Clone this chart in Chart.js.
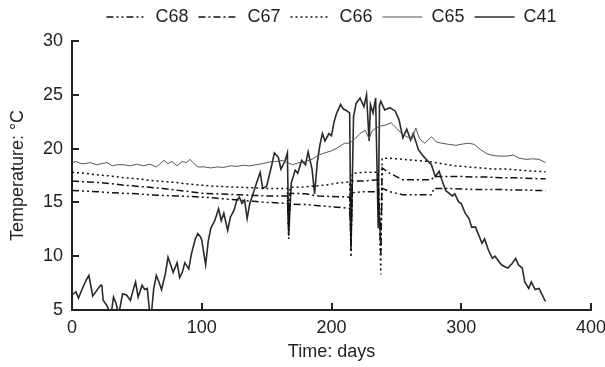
<!DOCTYPE html>
<html>
<head>
<meta charset="utf-8">
<script src="https://cdn.jsdelivr.net/npm/chart.js@4.4.1/dist/chart.umd.min.js"></script>
<style>
  html, body { margin: 0; padding: 0; background: #fff; }
  #wrap { width: 605px; height: 367px; }
</style>
</head>
<body>
<div id="wrap"><canvas id="chartTemp"></canvas></div>
<script>
// ==================== DADOS ====================
const xTicks = [0, 100, 200, 300, 400];
const yTicks = [5, 10, 15, 20, 25, 30];

const c68Days = [0, 10, 20, 30, 40, 50, 60, 70, 80, 90, 100, 110, 120, 130, 140, 150, 160, 166, 167, 168, 180, 190, 200, 214, 215, 216, 225, 236, 238, 239, 245, 255, 265, 277, 279, 290, 300, 310, 320, 330, 340, 350, 360, 365];
const c68Temp = [16.1, 16.05, 16.0, 15.9, 15.85, 15.8, 15.7, 15.65, 15.6, 15.55, 15.5, 15.4, 15.3, 15.2, 15.1, 15.0, 14.95, 14.9, 13.0, 14.85, 14.8, 14.7, 14.6, 14.45, 12.0, 15.9, 16.0, 16.0, 11.0, 16.3, 16.0, 15.7, 15.7, 15.7, 16.3, 16.3, 16.25, 16.2, 16.2, 16.2, 16.15, 16.15, 16.1, 16.1];

const c67Days = [0, 10, 20, 30, 40, 50, 60, 70, 80, 90, 100, 110, 120, 130, 140, 150, 160, 166, 167, 168, 180, 190, 200, 214, 215, 216, 225, 236, 238, 239, 245, 255, 265, 277, 279, 290, 300, 310, 320, 330, 340, 350, 360, 365];
const c67Temp = [17.0, 16.9, 16.85, 16.75, 16.6, 16.5, 16.4, 16.3, 16.15, 16.0, 15.85, 15.8, 15.75, 15.7, 15.65, 15.6, 15.6, 15.6, 12.4, 15.85, 15.8, 15.6, 15.55, 15.5, 11.0, 17.0, 17.0, 17.1, 10.2, 18.2, 17.7, 17.1, 17.1, 17.1, 17.4, 17.4, 17.4, 17.35, 17.35, 17.3, 17.3, 17.25, 17.2, 17.2];

const c66Days = [0, 10, 20, 30, 40, 50, 60, 70, 80, 90, 100, 110, 120, 130, 140, 150, 160, 166, 167, 168, 175, 185, 195, 205, 214, 215, 216, 225, 236, 238, 239, 245, 255, 265, 275, 285, 295, 305, 315, 325, 335, 345, 355, 365];
const c66Temp = [17.8, 17.7, 17.55, 17.45, 17.3, 17.2, 17.05, 16.95, 16.85, 16.7, 16.6, 16.5, 16.45, 16.4, 16.35, 16.3, 16.3, 16.3, 11.6, 16.4, 16.4, 16.5, 16.6, 16.8, 16.9, 9.9, 17.7, 17.8, 17.8, 8.3, 19.1, 19.1, 19.0, 18.9, 18.8, 18.6, 18.4, 18.3, 18.2, 18.1, 18.1, 18.0, 17.9, 17.85];

const c65Days = [0, 3, 7, 10, 14, 19, 23, 27, 31, 35, 40, 45, 50, 55, 60, 65, 68, 71, 74, 77, 81, 85, 88, 91, 94, 97, 102, 107, 112, 117, 122, 127, 132, 137, 142, 147, 152, 157, 162, 166, 170, 175, 180, 185, 190, 195, 200, 205, 210, 214, 218, 222, 226, 229, 231, 234, 238, 242, 246, 250, 254, 258, 262, 265, 268, 272, 277, 281, 285, 290, 296, 300, 305, 310, 315, 320, 325, 330, 335, 340, 345, 350, 355, 360, 365];
const c65Temp = [18.7, 18.8, 18.6, 18.6, 18.7, 18.5, 18.6, 18.7, 18.4, 18.5, 18.5, 18.4, 18.55, 18.4, 18.55, 18.3, 18.6, 18.9, 18.6, 18.8, 18.4, 18.8, 18.7, 19.0, 18.6, 18.3, 18.3, 18.2, 18.3, 18.25, 18.4, 18.35, 18.45, 18.4, 18.5, 18.6, 18.75, 18.8, 18.9, 18.7, 18.5, 18.7, 18.8, 19.0, 19.4, 19.6, 19.8, 20.1, 20.5, 20.5, 20.9, 21.4, 21.7, 20.9, 21.6, 21.9, 22.1, 22.2, 22.4, 21.9, 21.4, 21.1, 20.9, 21.9, 20.9, 20.5, 21.1, 20.6, 20.5, 20.4, 20.3, 20.4, 20.5, 20.4, 19.9, 19.5, 19.35, 19.3, 19.3, 19.4, 19.1, 19.0, 19.05, 19.0, 18.7];

const c41Days = [0, 3, 5, 8, 11, 13, 16, 19, 22, 23, 24, 27, 29, 30, 32, 34, 36, 39, 42, 45, 47, 49, 51, 54, 56, 58, 60, 61, 63, 65, 67, 69, 72, 74, 76, 78, 81, 83, 85, 87, 90, 92, 95, 97, 99, 100, 103, 105, 107, 110, 113, 115, 117, 120, 122, 125, 127, 129, 131, 133, 135, 137, 139, 142, 145, 147, 150, 152, 154, 156, 159, 161, 164, 166, 167, 169, 172, 174, 177, 180, 182, 185, 187, 189, 191, 193, 195, 198, 200, 202, 204, 207, 209, 212, 214, 215, 217, 219, 222, 225, 227, 229, 230, 232, 234, 236, 237, 238, 241, 245, 249, 252, 255, 258, 261, 263, 267, 270, 273, 277, 280, 283, 285, 288, 290, 293, 295, 298, 300, 303, 306, 308, 311, 313, 316, 318, 321, 324, 326, 329, 331, 334, 336, 339, 342, 344, 347, 349, 352, 354, 357, 360, 362, 364, 365];
const c41Temp = [6.4, 6.7, 6.1, 7.0, 7.8, 8.2, 6.3, 6.8, 7.3, 7.3, 5.9, 5.4, 4.8, 4.5, 6.2, 5.6, 4.6, 6.5, 6.4, 5.9, 6.8, 7.6, 6.2, 7.3, 6.9, 7.0, 4.6, 4.4, 7.0, 8.2, 7.6, 6.9, 8.4, 9.9, 9.2, 8.5, 9.4, 8.0, 8.5, 9.4, 8.8, 10.2, 11.6, 12.1, 11.8, 11.5, 9.2, 11.4, 12.6, 13.3, 14.4, 13.3, 14.0, 12.4, 13.6, 14.3, 15.2, 15.5, 14.9, 15.2, 13.5, 14.9, 15.6, 16.7, 17.8, 16.3, 16.5, 17.5, 18.5, 19.6, 19.2, 18.1, 18.8, 19.6, 12.0, 16.8, 18.0, 17.7, 18.9, 18.5, 19.7, 18.1, 15.8, 18.7, 20.3, 21.4, 20.7, 21.4, 21.2, 22.5, 23.3, 24.1, 23.7, 23.5, 23.3, 10.5, 23.0, 24.2, 24.7, 23.9, 25.0, 20.7, 24.1, 23.3, 24.7, 12.6, 24.0, 24.4, 23.6, 23.8, 23.5, 22.7, 21.0, 21.8, 20.8, 21.4, 19.9, 19.4, 19.0, 18.5, 17.4, 17.9, 17.1, 16.1, 15.9, 15.6, 15.8, 15.05, 14.9, 14.0, 13.5, 12.7, 12.7, 12.1, 11.2, 11.6, 10.55, 9.8, 10.0, 9.5, 9.2, 9.0, 8.9, 9.3, 9.8, 9.2, 8.9, 7.6, 7.0, 7.6, 6.9, 7.0, 6.5, 6.0, 5.8];

// junta dias e temperaturas em pontos {x, y}
function pontos(dias, temps) {
  return dias.map((d, i) => ({ x: d, y: temps[i] }));
}

// ==================== AJUSTE DA LEGENDA ====================
const legendaFixa = {
  id: 'legendaFixa',
  beforeLayout(chart) {
    const lg = chart.legend;
    if (lg && !lg._fitFixo) {
      const fitOrig = lg.fit;
      lg.fit = function () {
        fitOrig.call(this);
        this.height = 41;
      };
      lg._fitFixo = true;
    }
  },
  afterLayout(chart) {
    // sobe um pouco o texto da legenda
    if (chart.legend) chart.legend.top = -2;
  }
};

// ==================== GRAFICO DE TEMPERATURA ====================
Chart.defaults.font.family = '"Liberation Sans", Arial, sans-serif';
Chart.defaults.color = '#222';

const cxTemp = document.getElementById('chartTemp');
const chtTemp = new Chart(cxTemp, {
  type: 'line',
  data: {
    datasets: [
      {
        label: 'C68',
        data: pontos(c68Days, c68Temp),
        borderColor: '#111',
        backgroundColor: '#111',
        borderWidth: 1.5,
        borderDash: [7, 3, 2, 3, 2, 3],
      },
      {
        label: 'C67',
        data: pontos(c67Days, c67Temp),
        borderColor: '#111',
        backgroundColor: '#111',
        borderWidth: 1.5,
        borderDash: [7, 3, 2, 3],
      },
      {
        label: 'C66',
        data: pontos(c66Days, c66Temp),
        borderColor: '#111',
        backgroundColor: '#111',
        borderWidth: 1.5,
        borderDash: [2, 3],
      },
      {
        label: 'C65',
        data: pontos(c65Days, c65Temp),
        borderColor: '#555',
        backgroundColor: '#555',
        borderWidth: 1,
      },
      {
        label: 'C41',
        data: pontos(c41Days, c41Temp),
        borderColor: '#2a2a2a',
        backgroundColor: '#2a2a2a',
        borderWidth: 1.6,
      },
    ]
  },
  options: {
    responsive: true,
    maintainAspectRatio: false,
    animation: false,
    elements: {
      point: { radius: 0 },
      line: { tension: 0 },
    },
    layout: { padding: { left: 0, right: 0, top: 0, bottom: 0 } },
    scales: {
      x: {
        type: 'linear',
        min: 0,
        max: 400,
        afterBuildTicks: (s) => { s.ticks = xTicks.map(v => ({ value: v })); },
        afterFit: (s) => { s.height = 57; s.paddingLeft = 0; s.paddingRight = 14; },
        border: { display: true, color: '#222', width: 2 },
        grid: { drawOnChartArea: false, tickLength: -7, color: '#222', lineWidth: 2 },
        ticks: { padding: 14, font: { size: 18 }, color: '#222' },
        title: { text: 'Time: days', display: true, font: { size: 18 }, color: '#222', padding: { top: 4, bottom: 4 } },
      },
      y: {
        type: 'linear',
        min: 5,
        max: 30,
        afterBuildTicks: (s) => { s.ticks = yTicks.map(v => ({ value: v })); },
        afterFit: (s) => { s.width = 72; },
        border: { display: true, color: '#222', width: 2 },
        grid: { drawOnChartArea: false, tickLength: -7, color: '#222', lineWidth: 2 },
        ticks: { padding: 16, font: { size: 18 }, color: '#222' },
        title: { text: 'Temperature: °C', display: true, font: { size: 18 }, color: '#222', padding: { top: 7, bottom: 4 } },
      },
    },
    plugins: {
      legend: {
        position: 'top',
        fullSize: false,
        labels: {
          usePointStyle: true,
          pointStyle: 'line',
          pointStyleWidth: 40,
          boxHeight: 18,
          padding: 10,
          font: { size: 18 },
          color: '#222',
          // traço da legenda com o mesmo tracejado da serie
          generateLabels: (chart) => {
            const itens = Chart.defaults.plugins.legend.labels.generateLabels(chart);
            itens.forEach((it) => {
              const ds = chart.data.datasets[it.datasetIndex];
              it.lineDash = ds.borderDash || [];
              it.lineWidth = ds.borderWidth;
              it.strokeStyle = ds.borderColor;
              it.fillStyle = ds.borderColor;
            });
            return itens;
          },
        },
      },
      title: { display: false },
      tooltip: { enabled: false },
    },
  },
  plugins: [legendaFixa],
});
</script>
</body>
</html>
